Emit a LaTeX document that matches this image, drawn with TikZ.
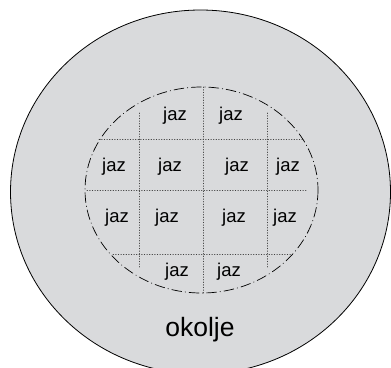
\documentclass[tikz,border=0pt]{standalone}
\usepackage{fontspec}
\setmainfont{Liberation Sans}
\definecolor{okoljegray}{RGB}{217,218,220}
\begin{document}
\begin{tikzpicture}[x=1pt, y=-1pt, line join=round, line cap=round]
	\useasboundingbox (0,0) rectangle (391,367);
	\clip (0,0) rectangle (391,367);
	% okolje
	\draw[fill=okoljegray, line width=0.8pt] (200.5,192) ellipse [x radius=190, y radius=182];
	% mreza
	\draw[dotted, line width=0.6pt, black!75] (203,87)--(203,293);
	\draw[dotted, line width=0.6pt, black!75] (139,113)--(139,267);
	\draw[dotted, line width=0.6pt, black!75] (267,113)--(267,267);
	\draw[dotted, line width=0.6pt, black!75] (99,139)--(304,139);
	\draw[dotted, line width=0.6pt, black!75] (87,190)--(307,190);
	\draw[dotted, line width=0.6pt, black!75] (113,254)--(292,254);
	\draw[line width=0.7pt, dash pattern=on 10pt off 3.5pt on 0.5pt off 3.5pt] (201.5,190) ellipse [x radius=116.5, y radius=103];
	% jaz
	\path (175,116)node[font=\fontsize{18.5}{18.5}\selectfont](j1){jaz};
	\path (231,116)node[font=\fontsize{18.5}{18.5}\selectfont](j2){jaz};
	\path (114,167)node[font=\fontsize{18.5}{18.5}\selectfont](j3){jaz};
	\path (170,167)node[font=\fontsize{18.5}{18.5}\selectfont](j4){jaz};
	\path (237,167)node[font=\fontsize{18.5}{18.5}\selectfont](j5){jaz};
	\path (288,167)node[font=\fontsize{18.5}{18.5}\selectfont](j6){jaz};
	\path (117,218)node[font=\fontsize{18.5}{18.5}\selectfont](j7){jaz};
	\path (167,218)node[font=\fontsize{18.5}{18.5}\selectfont](j8){jaz};
	\path (234,218)node[font=\fontsize{18.5}{18.5}\selectfont](j9){jaz};
	\path (285,218)node[font=\fontsize{18.5}{18.5}\selectfont](j10){jaz};
	\path (177,272)node[font=\fontsize{18.5}{18.5}\selectfont](j11){jaz};
	\path (229,272)node[font=\fontsize{18.5}{18.5}\selectfont](j12){jaz};
	\path (200,330)node[font=\fontsize{26.5}{26.5}\selectfont](okolje){okolje};
\end{tikzpicture}
\end{document}
